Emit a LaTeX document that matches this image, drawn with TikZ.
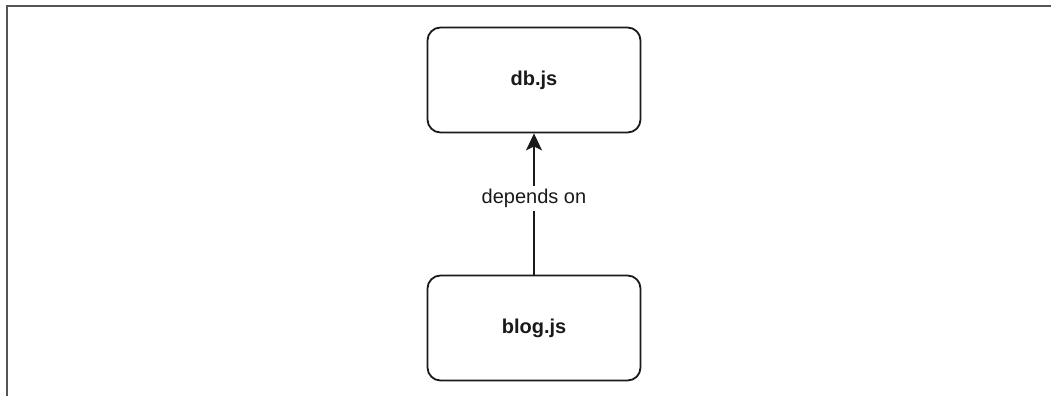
\documentclass[tikz,border=0pt]{standalone}
\usepackage{fontspec}
\setmainfont{Liberation Sans}
\usetikzlibrary{arrows.meta}
\definecolor{frame}{HTML}{555555}
\definecolor{ink}{HTML}{1A1A1A}
\begin{document}
\begin{tikzpicture}[x=1pt,y=-1pt,
  box/.style={draw=ink, line width=1.8pt, rounded corners=13pt, minimum width=213pt, minimum height=105pt, inner sep=0pt, font=\fontsize{20}{24}\selectfont\bfseries, text=ink},
  conn/.style={draw=ink, line width=1.8pt, -{Stealth[length=17pt,width=16pt,inset=4pt]}},
  lbl/.style={fill=white, inner sep=3pt, font=\fontsize{20}{24}\selectfont, text=ink}]
\useasboundingbox (0,0) rectangle (1051,396);
\fill[white] (0,0) rectangle (1051,396);
\coordinate (ftop) at (1051,6.5);
\coordinate (fcorner) at (6.5,6.5);
\coordinate (fbot) at (6.5,396);
\draw[frame, line width=2pt] (ftop) -- (fcorner) -- (fbot);
\node[box] (db) at (534,80) {db.js};
\node[box] (blog) at (534,328) {blog.js};
\draw[conn] (blog.north) -- node[lbl, pos=0.54] {depends on} (db.south);
\end{tikzpicture}
\end{document}
